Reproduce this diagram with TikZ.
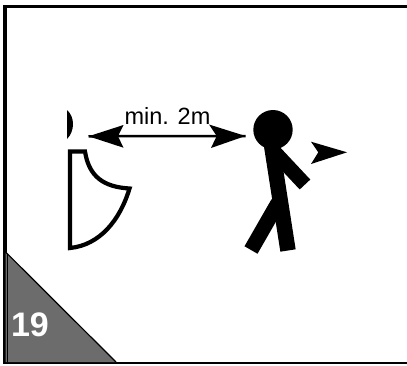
\documentclass[tikz,border=0pt]{standalone}
\usepackage{fontspec}
\setmainfont{Liberation Sans}
\definecolor{cornergray}{HTML}{6C6C6C}
\tikzset{
  px/.style={x=1pt,y=-1pt},
  thickline/.style={draw=black,line width=4.2pt,line join=miter},
  limb/.style={draw=black,line width=15pt,line cap=butt},
  tip/.style={fill=black,draw=none},
}
\begin{document}
\begin{tikzpicture}[px]
\useasboundingbox (0,0) rectangle (407,365);
\fill[white] (0,0) rectangle (407,365);
% frame
\draw[black,line width=2.6pt] (407,6.3) -- (5,6.3);
\draw[black,line width=2.6pt] (5,363) -- (407,363);
\draw[black,line width=3.6pt] (5,5) -- (5,364.3);
% corner triangle
\coordinate (ca) at (5.6,252);
\coordinate (cb) at (5.6,362);
\coordinate (cc) at (116,362);
\fill[cornergray] (ca) -- (cc) -- (cb) -- cycle;
\draw[black,line width=1.2pt] (ca) -- (cc);
\draw[black,line width=1.3pt] (7.4,254) -- (7.4,362);
\node[text=white,font=\bfseries\fontsize{34}{34}\selectfont,inner sep=0pt,anchor=base] (num) at (30,336) {19};
% door leaf
\draw[thickline] (70,151.5) -- (85,151.5) .. controls (89,177) and (104,187) .. (129.5,188.5)
  .. controls (120,220) and (100,245) .. (70,248) -- cycle;
% small black lens
\fill[black] (67,110) .. controls (75,117) and (75,131) .. (67,139) -- cycle;
% person
\fill[black] (273,129.7) circle (19.7);
\draw[limb,line width=15.5pt] (270,135) -- (288,250.5);
\draw[limb] (278,203) -- (251,250);
\draw[limb,line width=14.5pt] (275,152.5) -- (305,184.5);
% direction tip
\coordinate (p1) at (311,141.7);
\coordinate (p2) at (347,152.3);
\coordinate (p3) at (311,164);
\coordinate (p4) at (318.3,152.3);
\fill[tip] (p1) -- (p2) -- (p3) -- (p4) -- cycle;
% measure arrow
\coordinate (l) at (88.5,136.3);
\coordinate (r) at (245.5,136);
\draw[black,line width=2.5pt] (l) -- (r);
\fill[tip] (l) -- (123.5,125) -- (118,136.3) -- (123.5,147.7) -- cycle;
\fill[tip] (r) -- (209,124.5) -- (216.7,136) -- (211,148) -- cycle;
\node[font=\fontsize{23.5}{24}\selectfont,inner sep=0pt,anchor=base] (lab) at (167.5,124) {min. 2m};
\end{tikzpicture}
\end{document}
